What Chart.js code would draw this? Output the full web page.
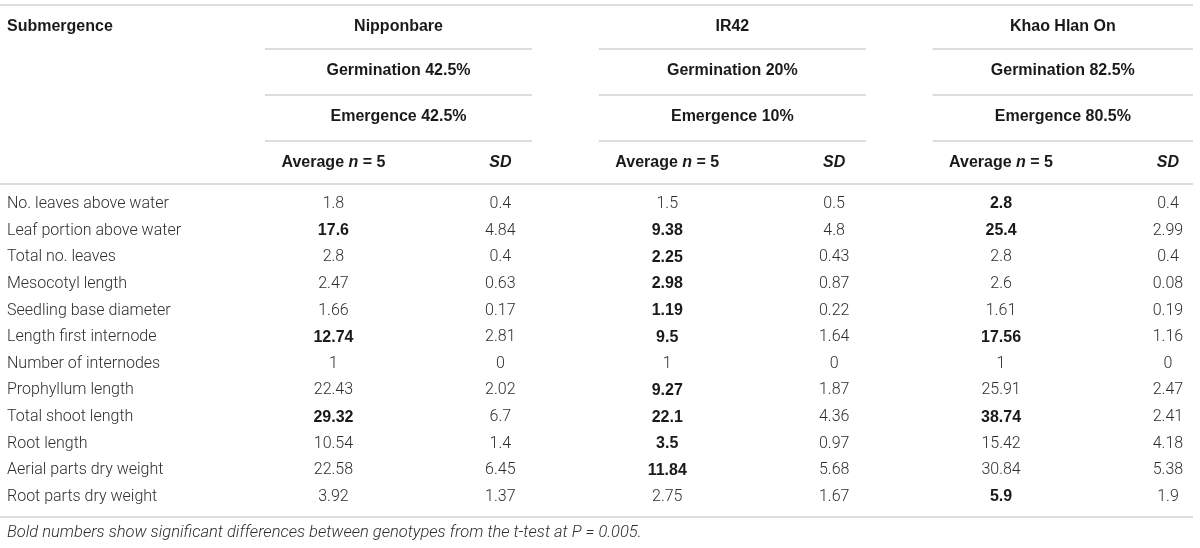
<!DOCTYPE html>
<html>
<head>
<meta charset="utf-8">
<script src="https://cdn.jsdelivr.net/npm/chart.js@4.4.1/dist/chart.umd.min.js"></script>
<style>
  html, body { margin: 0; padding: 0; background: #fff; }
  #wrap { width: 1200px; height: 548px; }
</style>
</head>
<body>
<div id="wrap"><canvas id="tabela"></canvas></div>
<script>
// linhas da tabela
const rowLabels = [
    'No. leaves above water',
    'Leaf portion above water',
    'Total no. leaves',
    'Mesocotyl length',
    'Seedling base diameter',
    'Length first internode',
    'Number of internodes',
    'Prophyllum length',
    'Total shoot length',
    'Root length',
    'Aerial parts dry weight',
    'Root parts dry weight'
];
const genotypes = ['Nipponbare', 'IR42', 'Khao Hlan On'];
const germination = ['Germination 42.5%', 'Germination 20%', 'Germination 82.5%'];
const emergence = ['Emergence 42.5%', 'Emergence 10%', 'Emergence 80.5%'];

const nipAvg = [1.8, 17.6, 2.8, 2.47, 1.66, 12.74, 1, 22.43, 29.32, 10.54, 22.58, 3.92];
const nipSD = [0.4, 4.84, 0.4, 0.63, 0.17, 2.81, 0, 2.02, 6.7, 1.4, 6.45, 1.37];
const ir42Avg = [1.5, 9.38, 2.25, 2.98, 1.19, 9.5, 1, 9.27, 22.1, 3.5, 11.84, 2.75];
const ir42SD = [0.5, 4.8, 0.43, 0.87, 0.22, 1.64, 0, 1.87, 4.36, 0.97, 5.68, 1.67];
const khaoAvg = [2.8, 25.4, 2.8, 2.6, 1.61, 17.56, 1, 25.91, 38.74, 15.42, 30.84, 5.9];
const khaoSD = [0.4, 2.99, 0.4, 0.08, 0.19, 1.16, 0, 2.47, 2.41, 4.18, 5.38, 1.9];

// indices das linhas em negrito (diferenca significativa)
const nipBold = [1, 5, 8];
const ir42Bold = [1, 2, 3, 4, 5, 7, 8, 9, 10];
const khaoBold = [0, 1, 5, 8, 11];

const footnote = 'Bold numbers show significant differences between genotypes from the t-test at P = 0.005.';

const colunas = [nipAvg, nipSD, ir42Avg, ir42SD, khaoAvg, khaoSD];
const negritos = [nipBold, [], ir42Bold, [], khaoBold, []];

const fonteLeve = 'Roboto, "Liberation Sans", Arial, sans-serif';
const fonteForte = '"Liberation Sans", Arial, sans-serif';
const corTexto = '#2e2e2e';
const corTitulo = '#1a1a1a';
const corLinha = '#d2d2d2';

// alturas do cabecalho (acima da area do grafico)
const cab = { linha: 46, texto: 21, regua: 43 };

var datasets = colunas.map((valores, c) => ({
    label: 'col' + c,
    data: valores.map((v, i) => ({ x: c, y: i, v: v, b: negritos[c].includes(i) })),
    pointRadius: 0,
    pointHoverRadius: 0,
    showLine: false
}));

function textoMisto(ctx, partes, cx, y) {
    let total = 0;
    partes.forEach(p => { ctx.font = p[1]; total += ctx.measureText(p[0]).width; });
    let x = cx - total / 2;
    ctx.textAlign = 'left';
    partes.forEach(p => {
        ctx.font = p[1];
        ctx.fillText(p[0], x, y);
        x += ctx.measureText(p[0]).width;
    });
}

const pluginTabela = {
    id: 'tabela',
    beforeDraw(chart) {
        const ctx = chart.ctx;
        ctx.save();
        ctx.fillStyle = '#fff';
        ctx.fillRect(0, 0, chart.width, chart.height);
        ctx.restore();
    },
    afterDraw(chart) {
        const ctx = chart.ctx;
        const area = chart.chartArea;
        const xs = chart.scales.x;
        const bold = 'bold 16px ' + fonteForte;
        const boldItalic = 'italic bold 16px ' + fonteForte;
        ctx.save();

        // reguas horizontais
        ctx.strokeStyle = corLinha;
        ctx.lineWidth = 1.5;
        const linhaCheia = y => {
            ctx.beginPath(); ctx.moveTo(0, y); ctx.lineTo(area.right, y); ctx.stroke();
        };
        linhaCheia(area.top - cab.regua - 3 * cab.linha + 2);
        linhaCheia(area.top);
        linhaCheia(area.bottom);
        for (let g = 0; g < genotypes.length; g++) {
            const x0 = xs.getPixelForValue(2 * g - 0.41);
            const x1 = Math.min(xs.getPixelForValue(2 * g + 1.19), area.right);
            for (let k = 0; k < 3; k++) {
                const y = area.top - cab.regua - k * cab.linha;
                ctx.beginPath(); ctx.moveTo(x0, y); ctx.lineTo(x1, y); ctx.stroke();
            }
            // cabecalhos de grupo
            const cx = (x0 + x1) / 2;
            ctx.fillStyle = corTitulo;
            ctx.textBaseline = 'middle';
            ctx.textAlign = 'center';
            ctx.font = bold;
            ctx.fillText(genotypes[g], cx, area.top - cab.texto - 3 * cab.linha + 2);
            ctx.fillText(germination[g], cx, area.top - cab.texto - 2 * cab.linha);
            ctx.fillText(emergence[g], cx, area.top - cab.texto - cab.linha);
            // Average n = 5 / SD
            const yAvg = area.top - cab.texto;
            textoMisto(ctx, [['Average ', bold], ['n', boldItalic], [' = 5', bold]],
                xs.getPixelForValue(2 * g), yAvg);
            ctx.textAlign = 'center';
            ctx.font = boldItalic;
            ctx.fillText('SD', xs.getPixelForValue(2 * g + 1), yAvg);
        }
        ctx.textAlign = 'left';
        ctx.font = bold;
        ctx.fillText('Submergence', 7, area.top - cab.texto - 3 * cab.linha + 2);

        // valores das celulas
        ctx.textAlign = 'center';
        ctx.textBaseline = 'middle';
        chart.data.datasets.forEach((ds, d) => {
            const meta = chart.getDatasetMeta(d);
            meta.data.forEach((pt, i) => {
                const raw = ds.data[i];
                ctx.font = raw.b ? bold : '300 16px ' + fonteLeve;
                ctx.fillStyle = raw.b ? corTitulo : corTexto;
                ctx.fillText(String(raw.v), pt.x, pt.y);
            });
        });

        // nota de rodape
        ctx.fillStyle = corTexto;
        ctx.textAlign = 'left';
        ctx.font = 'italic 300 16.5px ' + fonteLeve;
        ctx.fillText(footnote, 7, area.bottom + 16);
        ctx.restore();
    }
};

let ctx = document.getElementById('tabela').getContext('2d');
var tabela = new Chart(ctx, {
    type: 'scatter',
    data: { datasets: datasets },
    options: {
        responsive: true,
        maintainAspectRatio: false,
        animation: false,
        events: [],
        layout: { padding: { top: 184, bottom: 31, left: 7, right: 7 } },
        scales: {
            x: { type: 'linear', min: -0.41, max: 5.15, display: false },
            y: {
                type: 'linear',
                min: -0.75,
                max: 11.75,
                reverse: true,
                grid: { display: false },
                border: { display: false },
                afterBuildTicks: s => { s.ticks = rowLabels.map((_, i) => ({ value: i })); },
                afterFit: s => { s.width = 258; },
                ticks: {
                    crossAlign: 'far',
                    padding: 0,
                    autoSkip: false,
                    color: corTexto,
                    font: { family: fonteLeve, size: 16, weight: '300' },
                    callback: v => rowLabels[v]
                }
            }
        },
        plugins: {
            legend: { display: false },
            tooltip: { enabled: false }
        }
    },
    plugins: [pluginTabela]
});
</script>
</body>
</html>
